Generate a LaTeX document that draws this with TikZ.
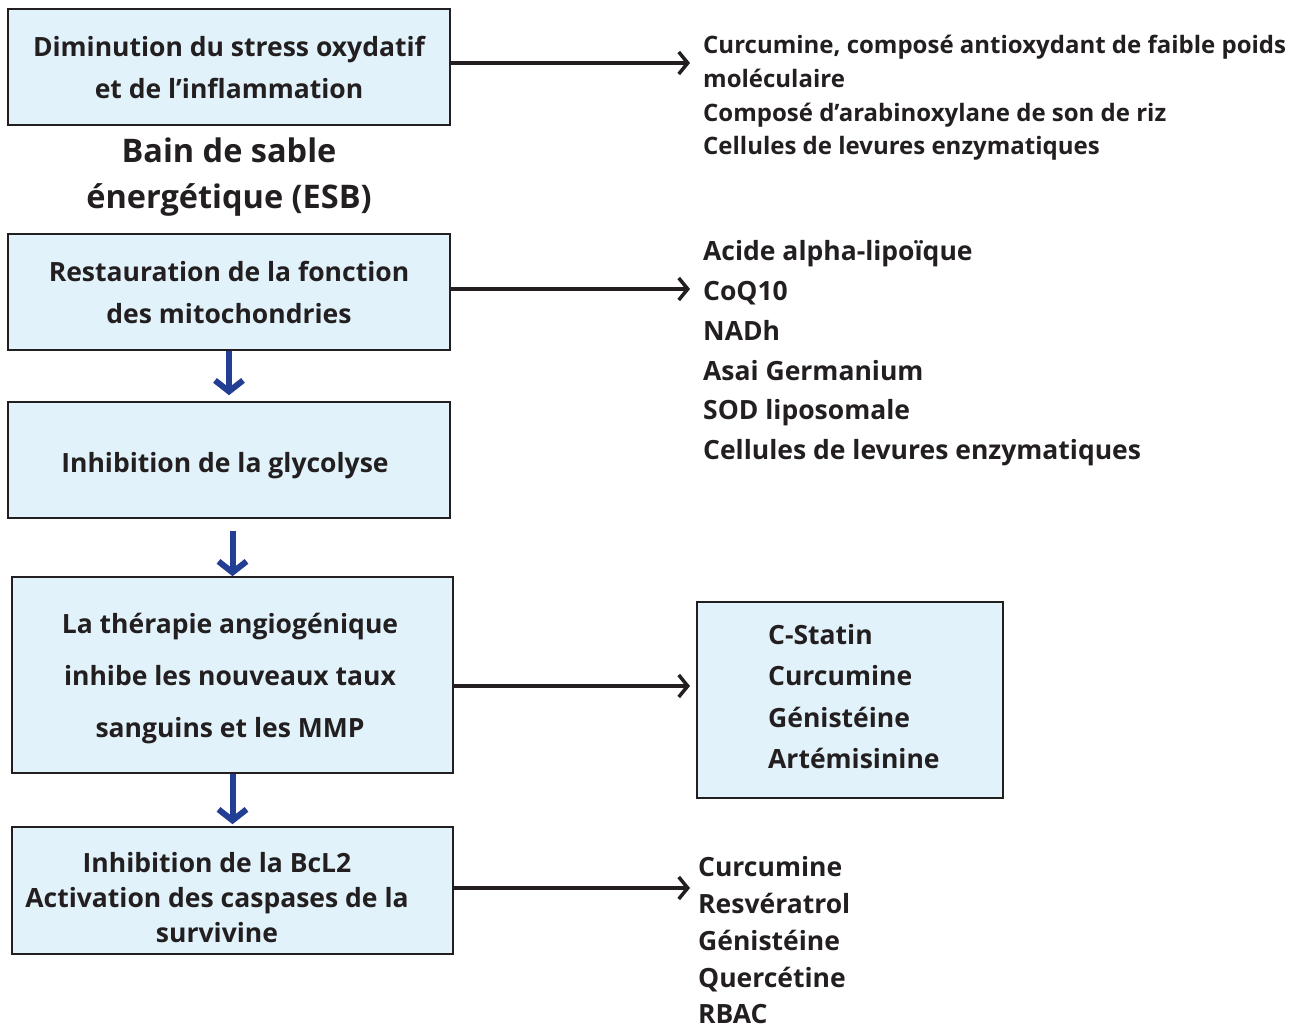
\documentclass[tikz,border=0pt]{standalone}
\usepackage{fontspec}
\setmainfont{Open Sans}
\usetikzlibrary{positioning}
\usetikzlibrary{arrows.meta}
\definecolor{boxfill}{RGB}{225,242,250}
\definecolor{inkdark}{RGB}{35,31,32}
\definecolor{flowblue}{RGB}{35,63,147}

\begin{document}
\begin{tikzpicture}[x=1pt, y=-1pt,
                        every node/.style={text=inkdark, font=\bfseries\fontsize{26.5}{42}\selectfont},
                        box/.style={draw=inkdark, line width=1.6pt, fill=boxfill, align=center, minimum width=442pt, minimum height=116pt, inner sep=2pt},
                        boxtext/.style={align=center, inner sep=0pt},
                        item/.style={anchor=mid west, inner sep=0pt},
                        sidearrow/.style={draw=inkdark, line width=3.5pt, -{Straight Barb[length=9pt, width=22pt, line width=3.5pt]}},
                        downarrow/.style={draw=flowblue, line width=6pt, -{Straight Barb[length=11pt, width=28pt, line width=6pt]}}]

            \useasboundingbox (0,0) rectangle (1294,1029);

            % left column
            \node[box] (stress) at (229,67) {Diminution du stress oxydatif\\et de l’inflammation};
            \node[font=\bfseries\fontsize{32.5}{46}\selectfont, align=center] (esb) at (229,177) {Bain de sable\\énergétique (ESB)};
            \node[box] (mito) at (229,292) {Restauration de la fonction\\des mitochondries};
            \node[box] (glyco) at (229,460) {};
            \node[boxtext] (glyco-t) at (225,466) {Inhibition de la glycolyse};
            \node[box, minimum width=441pt, minimum height=196pt] (angio) at (232.5,675) {};
            \node[boxtext, font=\bfseries\fontsize{26.5}{52}\selectfont] (angio-t) at (230,679) {La thérapie angiogénique\\inhibe les nouveaux taux\\sanguins et les MMP};
            \node[box, minimum width=441pt, minimum height=127pt] (bcl) at (232.5,890.5) {};
            \node[boxtext, font=\bfseries\fontsize{26.5}{35}\selectfont] (bcl-t) at (217,898) {Inhibition de la BcL2\\Activation des caspases de la\\survivine};

            % right column
            \node[box, minimum width=306pt, minimum height=196pt] (statin) at (850,700) {};
            \foreach \t [count=\i] in {{Curcumine, composé antioxydant de faible poids}, moléculaire, Composé d'arabinoxylane de son de riz, Cellules de levures enzymatiques}
                \node[item, font=\bfseries\fontsize{24}{34}\selectfont] (ox-\i) at (703,51+33.7*\i-33.7) {\t};
            \foreach \t [count=\i] in {Acide alpha-lipoïque, CoQ10, NADh, Asai Germanium, SOD liposomale, Cellules de levures enzymatiques}
                \node[item] (mt-\i) at (703,258+39.8*\i-39.8) {\t};
            \foreach \t [count=\i] in {C-Statin, Curcumine, Génistéine, Artémisinine}
                \node[item] (an-\i) at (768,642+41.3*\i-41.3) {\t};
            \foreach \t [count=\i] in {Curcumine, Resvératrol, Génistéine, Quercétine, RBAC}
                \node[item] (bc-\i) at (698,874+36.8*\i-36.8) {\t};

            % arrows
            \coordinate (to-ox) at (690,63);
            \coordinate (to-mt) at (690,289);
            \coordinate (to-an) at (690,686);
            \coordinate (to-bc) at (690,888);
            \draw[sidearrow] (stress.east |- to-ox) -- (to-ox);
            \draw[sidearrow] (mito.east |- to-mt) -- (to-mt);
            \draw[sidearrow] (angio.east |- to-an) -- (to-an);
            \draw[sidearrow] (bcl.east |- to-bc) -- (to-bc);
            \draw[downarrow, shorten >=6pt] (mito.south) -- (glyco.north);
            \draw[downarrow, shorten <=12pt] (glyco.south -| angio.south) -- (angio.north);
            \draw[downarrow, shorten >=2pt] (angio.south) -- (bcl.north);

        \end{tikzpicture}
\end{document}
